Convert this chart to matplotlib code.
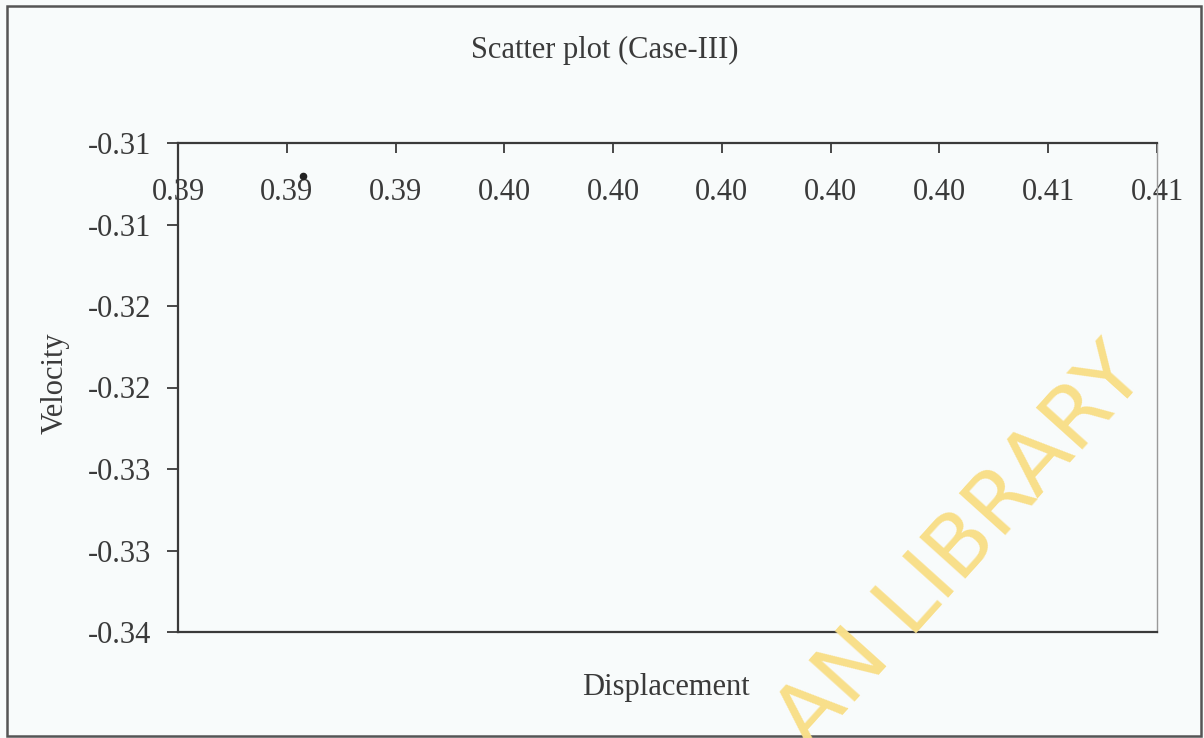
import matplotlib.pyplot as plt
from matplotlib.patches import Rectangle

plt.rcParams['font.family'] = ['Liberation Serif', 'DejaVu Serif']

# data (one point only)
disp = [0.3923]
vel = [-0.3120]

x_ticks = [0.390, 0.392, 0.394, 0.396, 0.398, 0.400, 0.402, 0.404, 0.406, 0.408]
x_labels = ['0.39', '0.39', '0.39', '0.40', '0.40', '0.40', '0.40', '0.40', '0.41', '0.41']
y_ticks = [-0.310, -0.315, -0.320, -0.325, -0.330, -0.335, -0.340]
y_labels = ['-0.31', '-0.31', '-0.32', '-0.32', '-0.33', '-0.33', '-0.34']

bg = '#f8fbfb'
ink = '#3a3a3a'

fig = plt.figure(figsize=(12.04, 7.38), dpi=100, facecolor=bg)
ax = fig.add_axes([178 / 1204, 1 - 632 / 738, (1157 - 178) / 1204, (632 - 143) / 738])
ax.set_facecolor(bg)

ax.scatter(disp, vel, s=20, color='#222222', zorder=3)

ax.set_xlim(0.390, 0.408)
ax.set_ylim(-0.340, -0.310)
ax.set_xticks(x_ticks)
ax.set_xticklabels(x_labels)
ax.set_yticks(y_ticks)
ax.set_yticklabels(y_labels)

ax.tick_params(axis='x', top=True, bottom=False, labeltop=True, labelbottom=False,
               direction='in', length=7, width=1.3, color=ink, pad=-46,
               labelsize=22, labelcolor=ink)
ax.tick_params(axis='y', direction='out', length=8, width=1.3, color=ink,
               pad=11, labelsize=22, labelcolor=ink)

for side in ['left', 'top', 'bottom']:
    ax.spines[side].set_color(ink)
    ax.spines[side].set_linewidth(1.6)
ax.spines['right'].set_color('#9a9a9a')
ax.spines['right'].set_linewidth(1.0)

fig.text(605 / 1204, 1 - 50 / 738, 'Scatter plot (Case-III)', ha='center', va='center',
         fontsize=22, color=ink)
fig.text(666 / 1204, 1 - 688 / 738, 'Displacement', ha='center', va='center',
         fontsize=22, color=ink)
fig.text(55 / 1204, 1 - 383 / 738, 'Velocity', ha='center', va='center',
         rotation=90, fontsize=22, color=ink)

# outer frame of the scanned figure
fig.patches.append(Rectangle((7 / 1204, 1 - 736 / 738), (1201 - 7) / 1204, (736 - 6) / 738,
                             transform=fig.transFigure, fill=False,
                             edgecolor='#555555', linewidth=1.8))

# library watermark (cut off at the bottom edge, as in the scan)
fig.text(962 / 1204, 1 - 548 / 738, 'AN LIBRARY', ha='center', va='center',
         rotation=48, fontsize=62, color='#f8df8a', family='DejaVu Sans', zorder=10)

fig.savefig('out.png', dpi=100, facecolor=bg)
